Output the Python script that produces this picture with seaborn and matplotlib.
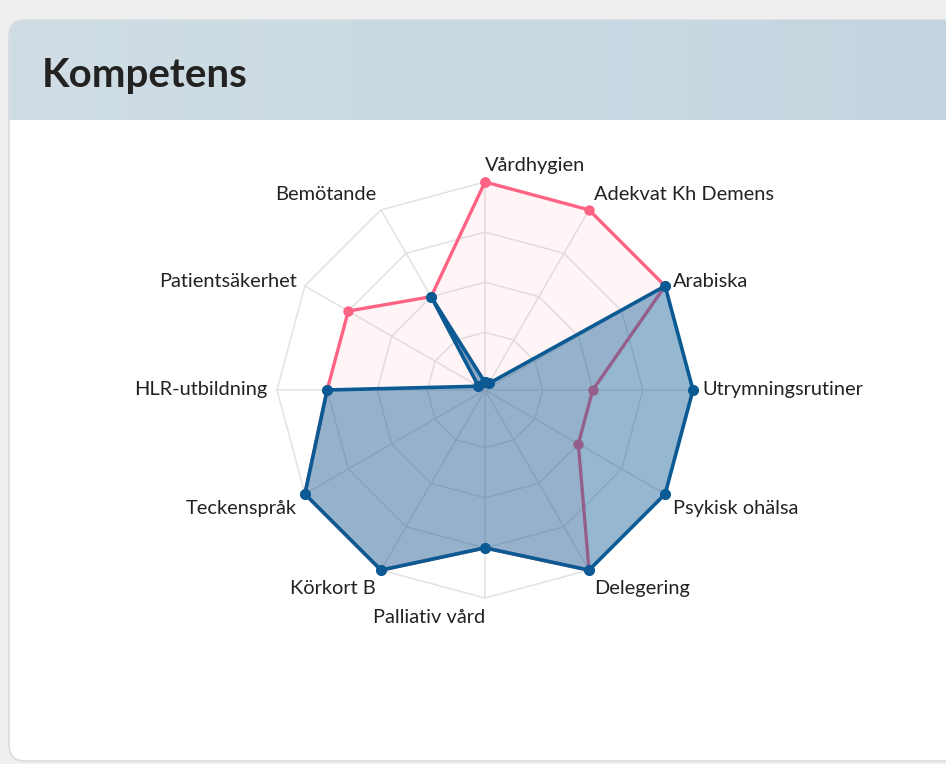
import numpy as np
import pandas as pd
import matplotlib
matplotlib.use("Agg")
import matplotlib.pyplot as plt
from matplotlib.patches import FancyBboxPatch
from matplotlib.colors import LinearSegmentedColormap
import matplotlib.transforms as mtransforms
import seaborn as sns

# ---------------- data ----------------
categories = ["Vårdhygien", "Adekvat Kh Demens", "Arabiska", "Utrymningsrutiner",
              "Psykisk ohälsa", "Delegering", "Palliativ vård", "Körkort B",
              "Teckenspråk", "HLR-utbildning", "Patientsäkerhet", "Bemötande"]
pink_values = [4, 4, 4, 2, 2, 4, 3, 4, 4, 3, 3, 2]
blue_values = [0, 0, 4, 4, 4, 4, 3, 4, 4, 3, 0, 2]
ring_values = [1, 2, 3, 4]
title = "Kompetens"

sns.set_theme(style="white")
plt.rcParams["font.family"] = ["Lato", "DejaVu Sans"]

W, H = 946, 764
fig = plt.figure(figsize=(W / 100, H / 100), dpi=100)
fig.patch.set_facecolor("#efefef")

# ---------------- background card ----------------
bg = fig.add_axes([0, 0, 1, 1])
bg.set_xlim(0, W)
bg.set_ylim(H, 0)
bg.axis("off")
bg.set_zorder(-1)
card = FancyBboxPatch((9, 20), 1000, 741, boxstyle="round,pad=0,rounding_size=16",
                      facecolor="white", edgecolor="#dcdcdc", linewidth=1.2)
bg.add_patch(card)
grad = np.linspace(0, 1, 256).reshape(1, -1)
cmap = LinearSegmentedColormap.from_list("hdr", ["#d0dde5", "#c5d5df"])
im = bg.imshow(grad, extent=[9, W, 120, 20], cmap=cmap, aspect="auto", zorder=1)
im.set_clip_path(card)
bg.text(42, 76, title, fontsize=29, fontweight="bold", color="#222222",
        ha="left", va="center", zorder=3)

# ---------------- radar ----------------
cx, cy, R = 485, 390, 208
ax = fig.add_axes([(cx - R) / W, (H - cy - R) / H, 2 * R / W, 2 * R / H], projection="polar")
ax.set_facecolor("none")
ax.set_theta_zero_location("N")
ax.set_theta_direction(-1)
rmin, rmax = -0.15, 4
ax.set_ylim(rmin, rmax)
ax.grid(False)
ax.set_xticks([])
ax.set_yticks([])
ax.spines["polar"].set_visible(False)

n = len(categories)
angles = np.arange(n) * 2 * np.pi / n
closed = np.append(angles, angles[0])

grid_col = "#e2e2e2"
for v in ring_values:
    ax.plot(closed, [v] * (n + 1), color=grid_col, lw=1.1, zorder=1, clip_on=False)
for a in angles:
    ax.plot([a, a], [rmin, rmax], color=grid_col, lw=1.1, zorder=1, clip_on=False)

pink = "#ff6384"
blue = "#0b5a94"

def series_df(vals):
    return pd.DataFrame({"theta": closed, "r": list(vals) + [vals[0]]})

dfp = series_df(pink_values)
ax.fill(dfp["theta"], dfp["r"], color=pink, alpha=0.06, zorder=2, lw=0, clip_on=False)
sns.lineplot(data=dfp, x="theta", y="r", sort=False, estimator=None, ax=ax, color=pink,
             lw=2.4, marker="o", markersize=7.5, markeredgewidth=0, zorder=3, clip_on=False)

dfb = series_df(blue_values)
ax.fill(dfb["theta"], dfb["r"], color="#0f5c96", alpha=0.44, zorder=4, lw=0, clip_on=False)
sns.lineplot(data=dfb, x="theta", y="r", sort=False, estimator=None, ax=ax, color=blue,
             lw=2.6, marker="o", markersize=8, markeredgewidth=0, zorder=5, clip_on=False)
ax.set_xlabel("")
ax.set_ylabel("")
ax.set_ylim(rmin, rmax)

# point labels
for a, lab in zip(angles, categories):
    deg = np.degrees(a) % 360
    ha = "left" if deg < 179 else "right"
    c = np.cos(a)
    if c > 0.6:
        dy_px = 7
    elif c < -0.1:
        dy_px = -10
    else:
        dy_px = 0
    tr = mtransforms.offset_copy(ax.transData, fig=fig, x=0, y=dy_px * 0.72, units="points")
    ax.text(a, 4.19, lab, ha=ha, va="center", fontsize=14.4, color="#222222",
            zorder=6, transform=tr)

fig.savefig("out.png", dpi=100, facecolor=fig.get_facecolor())
